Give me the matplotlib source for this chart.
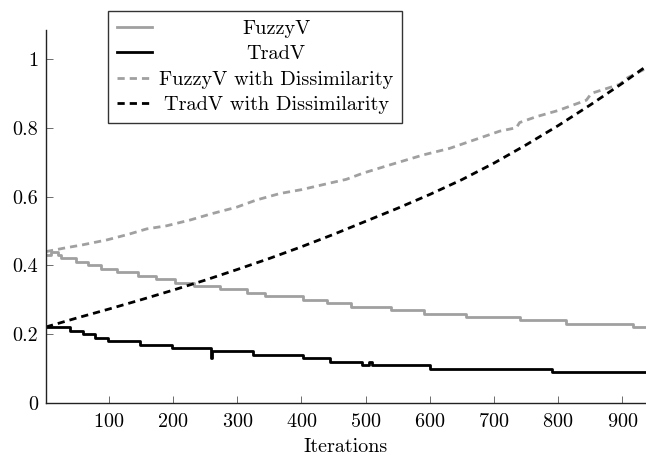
import matplotlib
matplotlib.use("Agg")
import matplotlib.pyplot as plt
from matplotlib.ticker import FuncFormatter

# ---------------- data ----------------
fuzzy_x = [2, 10, 20, 26, 48, 68, 87, 112, 146, 174, 203, 232, 273, 315, 343, 402,
           440, 478, 540, 591, 657, 740, 812, 916, 940]
fuzzy_y = [0.43, 0.44, 0.43, 0.42, 0.41, 0.40, 0.39, 0.38, 0.37, 0.36, 0.35, 0.34,
           0.33, 0.32, 0.31, 0.30, 0.29, 0.28, 0.27, 0.26, 0.25, 0.24, 0.23, 0.22, 0.22]

trad_x = [2, 40, 60, 79, 99, 149, 199, 259, 261, 325, 403, 444, 494, 505, 510, 600,
          790, 940]
trad_y = [0.22, 0.21, 0.20, 0.19, 0.18, 0.17, 0.16, 0.13, 0.15, 0.14, 0.13, 0.12,
          0.11, 0.12, 0.11, 0.10, 0.09, 0.09]

fuzzy_dis_x = [2, 30, 60, 97, 130, 159, 190, 227, 260, 299, 330, 367, 400, 444, 470,
               496, 538, 590, 631, 670, 709, 735, 740, 766, 800, 844, 852, 896, 908, 940]
fuzzy_dis_y = [0.44, 0.45, 0.46, 0.474, 0.49, 0.506, 0.515, 0.532, 0.55, 0.569, 0.59,
               0.609, 0.62, 0.639, 0.65, 0.668, 0.692, 0.721, 0.74, 0.765, 0.79, 0.80,
               0.815, 0.832, 0.85, 0.88, 0.90, 0.926, 0.945, 0.975]

trad_dis_x = [2, 50, 100, 150, 200, 250, 300, 350, 400, 450, 500, 550, 600, 650, 700,
              750, 800, 850, 900, 940]
trad_dis_y = [0.221, 0.247, 0.273, 0.300, 0.328, 0.357, 0.388, 0.420, 0.454, 0.490,
              0.528, 0.566, 0.606, 0.649, 0.697, 0.750, 0.806, 0.866, 0.929, 0.982]

labels = ["FuzzyV", "TradV", "FuzzyV with Dissimilarity", "TradV with Dissimilarity"]
xticks = [100, 200, 300, 400, 500, 600, 700, 800, 900]
yticks = [0, 0.2, 0.4, 0.6, 0.8, 1]

# ---------------- style ----------------
plt.rcParams['font.family'] = ['cmr10', 'DejaVu Serif']
plt.rcParams['axes.formatter.use_mathtext'] = True
FS = 14.5
GRAY = '#a0a0a0'
LW = 2.0
DASH = (0, (2.6, 1.8))

DPI = 100
fig = plt.figure(figsize=(6.46, 4.57), dpi=DPI)
ax = fig.add_axes([46 / 646, 54 / 457, 600 / 646, 373 / 457])

ax.plot(fuzzy_x, fuzzy_y, color=GRAY, lw=LW, drawstyle='steps-post', label=labels[0])
ax.plot(trad_x, trad_y, color='black', lw=LW, drawstyle='steps-post', label=labels[1])
ax.plot(fuzzy_dis_x, fuzzy_dis_y, color=GRAY, lw=LW, linestyle=DASH, label=labels[2])
ax.plot(trad_dis_x, trad_dis_y, color='black', lw=LW, linestyle=DASH, label=labels[3])

ax.set_xlim(2, 937)
ax.set_ylim(0, 1.084)
ax.set_xticks(xticks)
ax.set_yticks(yticks)
ax.yaxis.set_major_formatter(FuncFormatter(lambda v, p: f"{v:g}"))
ax.tick_params(direction='in', length=5, width=0.6, color='#555555',
               labelsize=FS)
ax.tick_params(axis='x', pad=7.5)
ax.tick_params(axis='y', pad=5.5)
ax.spines['top'].set_visible(False)
ax.spines['right'].set_visible(False)
for s in ('left', 'bottom'):
    ax.spines[s].set_linewidth(1.0)
    ax.spines[s].set_color('#222222')
ax.set_xlabel("Iterations", fontsize=FS, labelpad=4.5)

leg = ax.legend(loc='upper left', bbox_to_anchor=(108 / 646, 1 - 11 / 457),
                bbox_transform=fig.transFigure, borderaxespad=0, fontsize=14.6,
                frameon=True, fancybox=False, edgecolor='black',
                handlelength=1.75, handletextpad=0.35, labelspacing=0.36,
                borderpad=0.42)
leg.get_frame().set_linewidth(1.0)

# centre the legend texts inside their column
fig.canvas.draw()
r = fig.canvas.get_renderer()
texts = leg.get_texts()
widths = [t.get_window_extent(r).width for t in texts]
wmax = max(widths)
for t, w in zip(texts, widths):
    t.set_x((wmax - w) / 2)

fig.savefig("out.png", dpi=DPI)
